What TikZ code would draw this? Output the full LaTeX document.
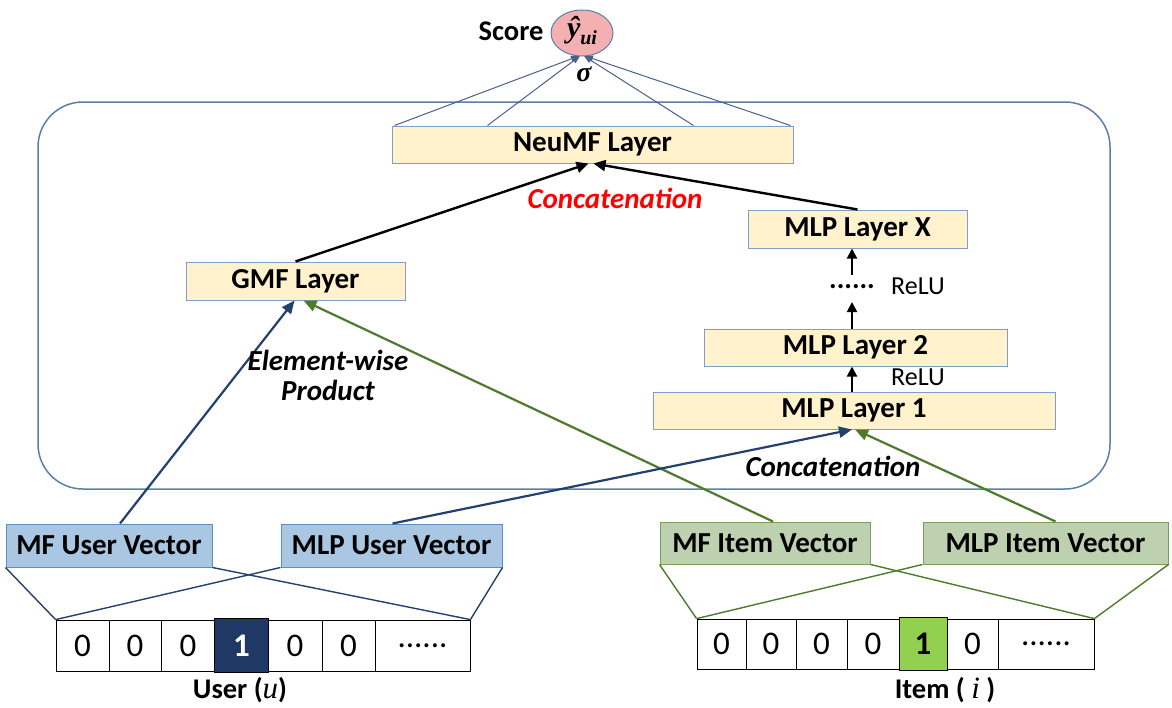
\documentclass[tikz,border=0pt]{standalone}
\usepackage{fontspec}
\setmainfont{Carlito}
\newfontfamily\serifx{Liberation Serif}
\usetikzlibrary{arrows.meta,calc,shapes.geometric}
\newcommand\mydots{......}
\definecolor{boxfill}{HTML}{FFF2CC}
\definecolor{boxline}{HTML}{7F9FC8}
\definecolor{frameline}{HTML}{5A7FAE}
\definecolor{ublue}{HTML}{A9C6E2}
\definecolor{ubline}{HTML}{5B8FC4}
\definecolor{igreen}{HTML}{BDD1B0}
\definecolor{igline}{HTML}{78A05A}
\definecolor{navy}{HTML}{1F3864}
\definecolor{arrblue}{HTML}{23406E}
\definecolor{arrgreen}{HTML}{4E7A2B}
\definecolor{topline}{HTML}{4A5F8A}
\definecolor{pinkf}{HTML}{F4B0B0}
\definecolor{cellgreen}{HTML}{92D050}
\begin{document}
\begin{tikzpicture}[x=1pt,y=-1pt,
  layer/.style={draw=boxline,fill=boxfill,line width=1pt,inner sep=0pt,font=\fontsize{29}{32}\selectfont\bfseries},
  uvec/.style={draw=ubline,fill=ublue,line width=1pt,inner sep=0pt,font=\fontsize{29}{32}\selectfont\bfseries},
  ivec/.style={draw=igline,fill=igreen,line width=1pt,inner sep=0pt,font=\fontsize{29}{32}\selectfont\bfseries},
  cell/.style={draw=black,line width=0.8pt,inner sep=0pt,font=\fontsize{33}{35}\selectfont},
  lbl/.style={inner sep=0pt,font=\fontsize{28.5}{31}\selectfont\bfseries},
  ilbl/.style={inner sep=0pt,font=\fontsize{29}{32}\selectfont\bfseries\itshape,align=center},
  relu/.style={inner sep=0pt,font=\fontsize{26}{28}\selectfont},
  barrow/.style={draw=arrblue,line width=2.2pt,-{Triangle[length=13pt,width=11pt]}},
  garrow/.style={draw=arrgreen,line width=2.2pt,-{Triangle[length=13pt,width=11pt]}},
  karrow/.style={draw=black,line width=2.4pt,-{Triangle[length=12pt,width=11pt]}},
  uparrow/.style={draw=black,line width=2pt,-{Triangle[length=10pt,width=10pt]}},
  tarrow/.style={draw=topline,line width=1pt,-{Triangle[length=8pt,width=6pt]}},
  ublink/.style={draw=arrblue,line width=1.4pt},
  iglink/.style={draw=arrgreen,line width=1.4pt}
]
\useasboundingbox (0,0) rectangle (1172,707);
% frame
\draw[frameline,line width=1.5pt,rounded corners=45pt] (38,102) rectangle (1110,489);
% layers
\node[layer,minimum width=401pt,minimum height=37pt] (neumf) at (592.5,144.5) {NeuMF Layer};
\node[layer,minimum width=219pt,minimum height=38pt] (gmf) at (295.5,281) {GMF Layer};
\node[layer,minimum width=219pt,minimum height=38pt] (mlpx) at (857.5,229) {MLP Layer X};
\node[layer,minimum width=303pt,minimum height=37pt] (mlp2) at (855.5,347.5) {MLP Layer 2};
\node[layer,minimum width=402pt,minimum height=37pt] (mlp1) at (854,410.5) {MLP Layer 1};
% score
\node[ellipse,draw=frameline,fill=pinkf,line width=1pt,minimum width=62pt,minimum height=46pt,inner sep=0pt] (yhat) at (582,33) {};
\node[inner sep=0pt,font=\fontsize{30}{32}\selectfont\serifx\bfseries\itshape] (ylbl) at (582,31) {ŷ\raisebox{-7pt}{\fontsize{20}{22}\selectfont ui}};
\node[lbl] (score) at (511,31) {Score};
\node[inner sep=0pt,font=\fontsize{28}{30}\selectfont\serifx\bfseries\itshape] (sigma) at (584,74) {σ};
% top arrows
\coordinate (ybot) at (582,56);
\draw[tarrow] ($(neumf.north west)+(3,0)$) -- ($(ybot)+(-3,0)$);
\draw[tarrow] ($(neumf.north west)+(96,0)$) -- ($(ybot)+(-2,0)$);
\draw[tarrow] ($(neumf.north east)+(-100,0)$) -- ($(ybot)+(2,0)$);
\draw[tarrow] ($(neumf.north east)+(-3,0)$) -- ($(ybot)+(3,0)$);
% concatenation red
\node[ilbl,text=red] (concat1) at (615,198) {Concatenation};
% black arrows
\draw[karrow] (gmf.north) -- ($(neumf.south)+(-4,0)$);
\draw[karrow] (mlpx.north) -- ($(neumf.south)+(1,0)$);
% MLP up arrows
\coordinate (dotsb) at (852,302);
\coordinate (dotst) at (852,275);
\draw[uparrow] (mlp2.north -| dotsb) -- (dotsb);
\draw[uparrow] (dotst) -- (mlpx.south -| dotst);
\draw[uparrow] (mlp1.north -| dotsb) -- (mlp2.south -| dotsb);
\node[lbl] (dots) at (852,287) {\mydots};
\node[relu] (relu1) at (918,286) {ReLU};
\node[relu] (relu2) at (918,377) {ReLU};
% vectors
\node[uvec,minimum width=206pt,minimum height=43pt] (mfu) at (109,545.5) {MF User Vector};
\node[uvec,minimum width=221pt,minimum height=43pt] (mlpu) at (391.5,545.5) {MLP User Vector};
\node[ivec,minimum width=210pt,minimum height=42pt] (mfi) at (765,543) {MF Item Vector};
\node[ivec,minimum width=245pt,minimum height=42pt] (mlpi) at (1045.5,543) {MLP Item Vector};
% arrows into GMF and MLP1
\draw[barrow] ($(mfu.north)+(11,0)$) -- ($(gmf.south)+(-1,0)$);
\draw[garrow] ($(mfi.north)+(8,0)$) -- ($(gmf.south)+(8,0)$);
\draw[barrow] ($(mlpu.north)+(1,0)$) -- ($(mlp1.south)+(-2,0)$);
\draw[garrow] ($(mlpi.north)+(10,0)$) -- ($(mlp1.south)+(1,0)$);
\node[ilbl] (ewp) at (328,375) {Element-wise\\[-2pt]Product};
\node[ilbl,text=black] (concat2) at (833,466) {Concatenation};
% user one-hot
\foreach \i/\a/\b/\t in {1/56/109/0,2/109/161/0,3/161/215/0,5/268/322/0,6/322/375/0,7/375/470/\mydots}{
  \node[cell,minimum width={(\b-\a)*1pt},minimum height=51pt] (u\i) at ({(\a+\b)/2},645.5) {\t};
}
\node[cell,fill=navy,text=white,font=\fontsize{33}{35}\selectfont\bfseries,minimum width=54pt,minimum height=54pt] (u4) at (241.5,645.5) {1};
\node[lbl] (user) at (240,690) {User ({\serifx\itshape\mdseries\fontsize{31}{33}\selectfont u})};
% item one-hot
\foreach \i/\a/\b/\t in {1/697/746/0,2/746/796/0,3/796/847/0,4/847/899/0,6/947/998/0,7/998/1094/\mydots}{
  \node[cell,minimum width={(\b-\a)*1pt},minimum height=50pt] (i\i) at ({(\a+\b)/2},644) {\t};
}
\node[cell,fill=cellgreen,font=\fontsize{33}{35}\selectfont\bfseries,minimum width=48pt,minimum height=53pt] (i5) at (923,644) {1};
\node[lbl] (item) at (945,690) {Item ( {\serifx\itshape\mdseries\fontsize{31}{33}\selectfont i} )};
% links from vectors to one-hot
\draw[ublink] (mfu.south west) -- (u1.north west);
\draw[ublink] (mfu.south east) -- (u7.north east);
\draw[ublink] (mlpu.south west) -- (u1.north west);
\draw[ublink] (mlpu.south east) -- (u7.north east);
\draw[iglink] (mfi.south west) -- (i1.north west);
\draw[iglink] (mfi.south east) -- (i7.north east);
\draw[iglink] (mlpi.south west) -- (i1.north west);
\draw[iglink] (mlpi.south east) -- (i7.north east);
\end{tikzpicture}
\end{document}
